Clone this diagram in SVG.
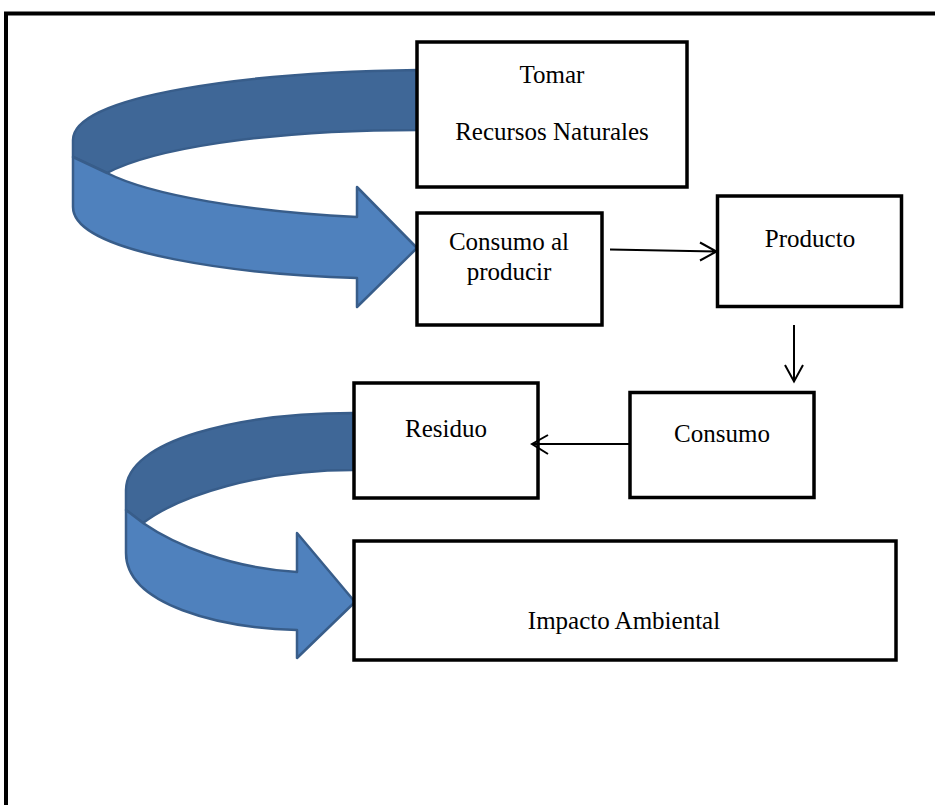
<svg xmlns="http://www.w3.org/2000/svg" width="935" height="805" viewBox="0 0 935 805">
<style>
.box{fill:#fff;stroke:#000;stroke-width:3.5}
.t{font-family:"Liberation Serif","Times New Roman",serif;font-size:25px;fill:#000;text-anchor:middle}
.back{fill:#3F6797;stroke:#385D8A;stroke-width:2.5;stroke-linejoin:round}
.front{fill:#4F81BD;stroke:#385D8A;stroke-width:2.5;stroke-linejoin:round}
.conn{stroke:#000;stroke-width:2;fill:none}
</style>
<rect width="935" height="805" fill="#fff"/>
<path d="M6,805 L6,13.5 L935,13.5" fill="none" stroke="#000" stroke-width="4"/>
<g id="curved-arrow-1">
<path class="back" d="M418,70 C250,72 73,95 73,140 L73,157 L107,173 C150,150 260,130 418,130 Z"/>
<path class="front" d="M73,157 L107,173 C150,195 250,212 357,217 L357,187 L417,248 L357,307 L357,278 C250,275 73,255 73,207 Z"/>
</g>
<g id="curved-arrow-2">
<path class="back" d="M353,413 C240,413 126,440 126,490 L126,510 L143,523 C180,495 260,470 353,470 Z"/>
<path class="front" d="M126,510 L143,523 C175,545 230,568 297,572 L297,533 L355,602 L297,658 L297,630 C220,628 126,605 126,553 Z"/>
</g>
<g id="tomar">
<rect class="box" x="417" y="42" width="270" height="145"/>
<text class="t" x="552" y="83">Tomar</text>
<text class="t" x="552" y="140">Recursos Naturales</text>
</g>
<g id="consumo-al-producir">
<rect class="box" x="417" y="213" width="185" height="112"/>
<text class="t" x="509" y="250">Consumo al</text>
<text class="t" x="509" y="280">producir</text>
</g>
<g id="producto">
<rect class="box" x="717.5" y="196" width="184" height="110.5"/>
<text class="t" x="810" y="247">Producto</text>
</g>
<g id="consumo">
<rect class="box" x="630" y="392.5" width="184" height="105"/>
<text class="t" x="722" y="442">Consumo</text>
</g>
<g id="residuo">
<rect class="box" x="354" y="383" width="184" height="115"/>
<text class="t" x="446" y="437">Residuo</text>
</g>
<g id="impacto-ambiental">
<rect class="box" x="354" y="541" width="542" height="119"/>
<text class="t" x="624" y="629">Impacto Ambiental</text>
</g>
<g id="connectors">
<path class="conn" d="M610,249.5 L716,251.5 M700,242.5 L716.5,251.5 L700,260.5"/>
<path class="conn" d="M794,325 L794,381 M785,365 L794,381.5 L803,365"/>
<path class="conn" d="M630,444 L532,444 M548,435 L532,444 L548,454"/>
</g>
</svg>
